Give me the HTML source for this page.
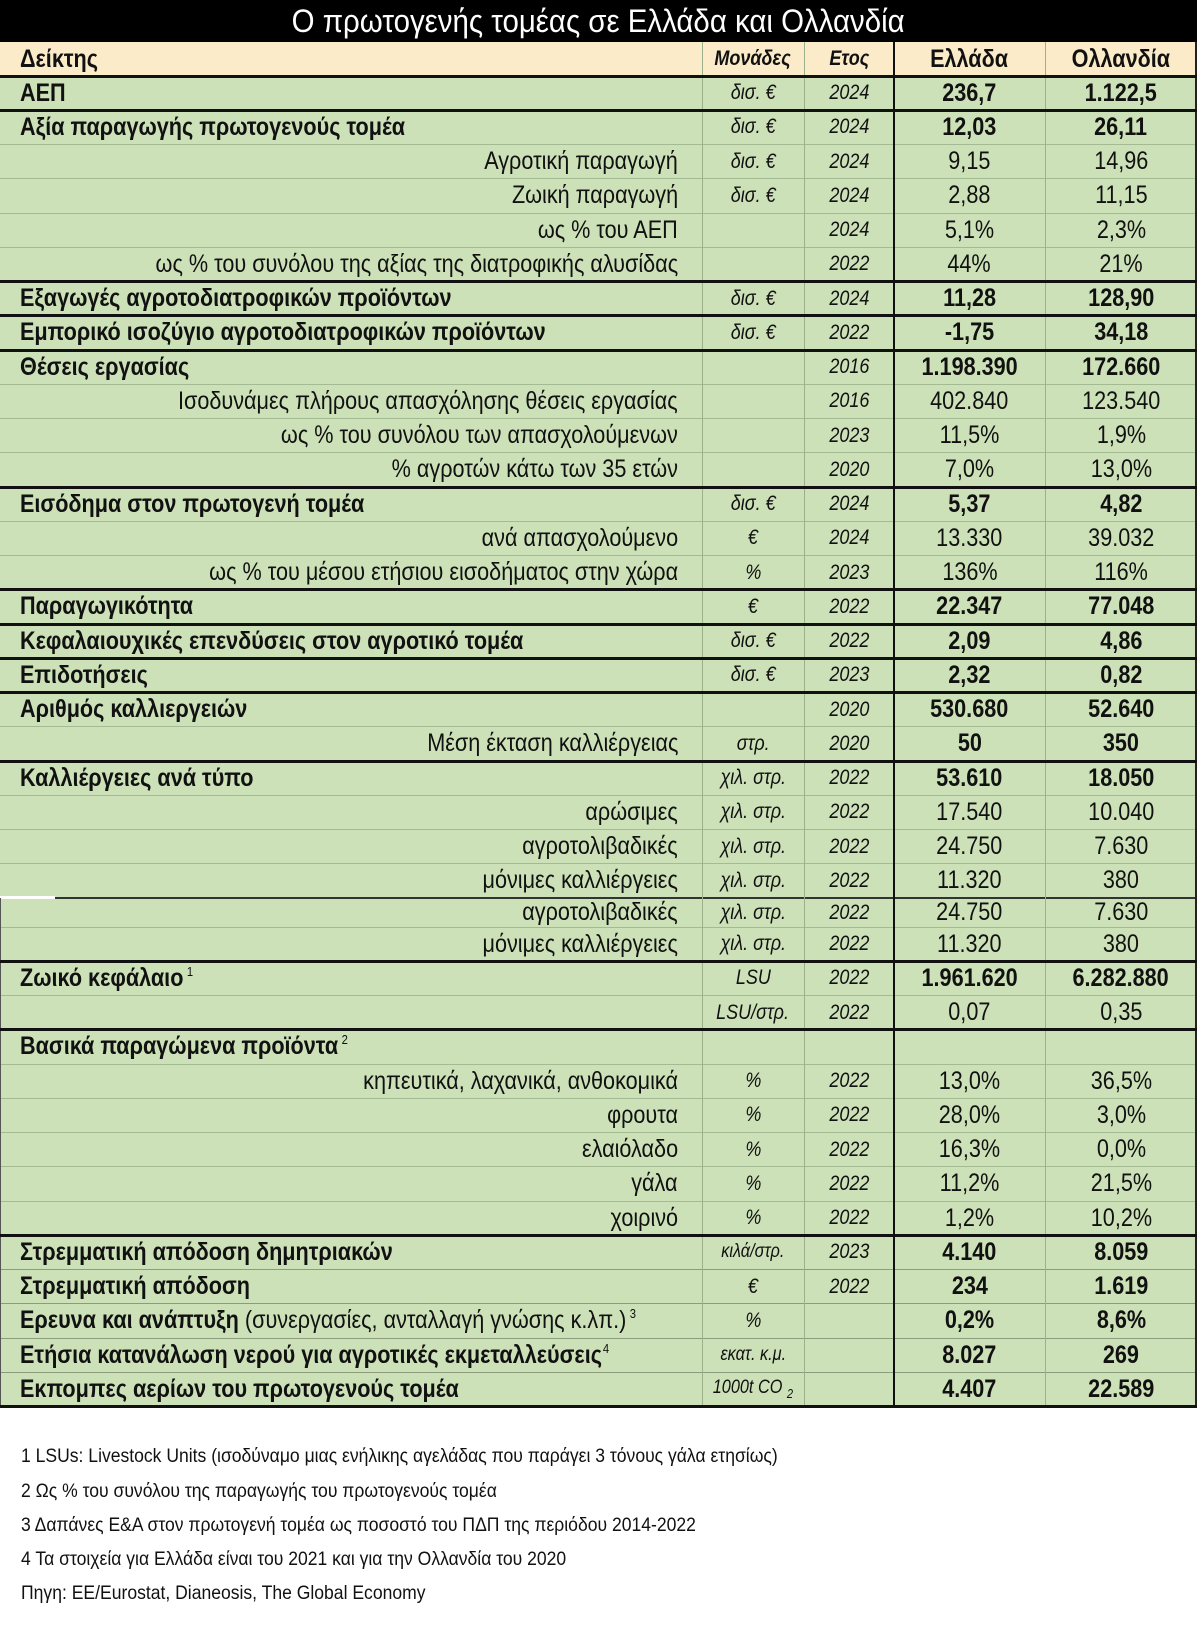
<!DOCTYPE html>
<html><head><meta charset="utf-8">
<style>
*{margin:0;padding:0;box-sizing:border-box}
html,body{width:1197px;height:1630px;background:#fff;overflow:hidden}
body{position:relative;font-family:"Liberation Sans","Noto Sans CJK SC",sans-serif;color:#111}
#title{position:absolute;left:0;top:0;width:1197px;height:42px;background:#000;color:#fff;display:flex;align-items:center;justify-content:center;font-size:32px}
#title span{display:inline-block;transform:scaleX(.92);transform-origin:center}
.r{position:absolute;left:0;width:1197px;background:#cde1b8}
.hdr{background:#fcebc8}
.c{position:absolute;top:0;bottom:0;display:flex;align-items:center;white-space:nowrap;font-size:25px}
.c>span{display:inline-block;transform:scaleX(.865)}
.l{left:20px}.l>span{transform-origin:left center}
.s{right:519px;justify-content:flex-end}.s>span{transform-origin:right center}
.u{left:702px;width:102px;justify-content:center;font-size:21px;font-style:italic}
.y{left:804px;width:90px;justify-content:center;font-size:21px;font-style:italic}
.u>span,.y>span{transform:scaleX(.857)}
.g{left:894px;width:151px;justify-content:center}
.n{left:1045px;width:152px;justify-content:center}
.u>span,.y>span,.g>span,.n>span{transform-origin:center}
.b{font-weight:bold}
sup{font-size:13px;font-weight:normal;vertical-align:10px;margin-left:4px}
sub{font-size:13px;vertical-align:-5px}
.hl{position:absolute;left:0;width:1197px}
.tk{height:3px;background:#111}
.tn{height:1px;background:#a4ba93}
.vl{position:absolute;top:42px;height:1365px}
.fn{position:absolute;left:21px;font-size:19.5px;white-space:nowrap}
.fn span{display:inline-block;transform:scaleX(.9);transform-origin:left center}
</style></head><body>
<div id="title"><span>Ο πρωτογενής τομέας σε Ελλάδα και Ολλανδία</span></div>

<div class="r hdr" style="top:42px;height:34px">
<div class="c l b"><span>Δείκτης</span></div>
<div class="c u b"><span>Μονάδες</span></div>
<div class="c y b"><span>Ετος</span></div>
<div class="c g b"><span>Ελλάδα</span></div>
<div class="c n b"><span>Ολλανδία</span></div>
</div>

<div class="r" style="top:76px;height:34.25px"><div class="c l b"><span>ΑΕΠ</span></div><div class="c u"><span>δισ. €</span></div><div class="c y"><span>2024</span></div><div class="c g b"><span>236,7</span></div><div class="c n b"><span>1.122,5</span></div></div>
<div class="r" style="top:110.25px;height:34.25px"><div class="c l b"><span>Αξία παραγωγής πρωτογενούς τομέα</span></div><div class="c u"><span>δισ. €</span></div><div class="c y"><span>2024</span></div><div class="c g b"><span>12,03</span></div><div class="c n b"><span>26,11</span></div></div>
<div class="r" style="top:144.5px;height:34.25px"><div class="c s"><span>Αγροτική παραγωγή</span></div><div class="c u"><span>δισ. €</span></div><div class="c y"><span>2024</span></div><div class="c g"><span>9,15</span></div><div class="c n"><span>14,96</span></div></div>
<div class="r" style="top:178.75px;height:34.25px"><div class="c s"><span>Ζωική παραγωγή</span></div><div class="c u"><span>δισ. €</span></div><div class="c y"><span>2024</span></div><div class="c g"><span>2,88</span></div><div class="c n"><span>11,15</span></div></div>
<div class="r" style="top:213px;height:34.25px"><div class="c s"><span>ως % του ΑΕΠ</span></div><div class="c y"><span>2024</span></div><div class="c g"><span>5,1%</span></div><div class="c n"><span>2,3%</span></div></div>
<div class="r" style="top:247.25px;height:34.25px"><div class="c s"><span>ως % του συνόλου της αξίας της διατροφικής αλυσίδας</span></div><div class="c y"><span>2022</span></div><div class="c g"><span>44%</span></div><div class="c n"><span>21%</span></div></div>
<div class="r" style="top:281.5px;height:34.25px"><div class="c l b"><span>Εξαγωγές αγροτοδιατροφικών προϊόντων</span></div><div class="c u"><span>δισ. €</span></div><div class="c y"><span>2024</span></div><div class="c g b"><span>11,28</span></div><div class="c n b"><span>128,90</span></div></div>
<div class="r" style="top:315.75px;height:34.25px"><div class="c l b"><span>Εμπορικό ισοζύγιο αγροτοδιατροφικών προϊόντων</span></div><div class="c u"><span>δισ. €</span></div><div class="c y"><span>2022</span></div><div class="c g b"><span>-1,75</span></div><div class="c n b"><span>34,18</span></div></div>
<div class="r" style="top:350px;height:34.25px"><div class="c l b"><span>Θέσεις εργασίας</span></div><div class="c y"><span>2016</span></div><div class="c g b"><span>1.198.390</span></div><div class="c n b"><span>172.660</span></div></div>
<div class="r" style="top:384.25px;height:34.25px"><div class="c s"><span>Ισοδυνάμες πλήρους απασχόλησης θέσεις εργασίας</span></div><div class="c y"><span>2016</span></div><div class="c g"><span>402.840</span></div><div class="c n"><span>123.540</span></div></div>
<div class="r" style="top:418.5px;height:34.25px"><div class="c s"><span>ως % του συνόλου των απασχολούμενων</span></div><div class="c y"><span>2023</span></div><div class="c g"><span>11,5%</span></div><div class="c n"><span>1,9%</span></div></div>
<div class="r" style="top:452.75px;height:34.25px"><div class="c s"><span>% αγροτών κάτω των 35 ετών</span></div><div class="c y"><span>2020</span></div><div class="c g"><span>7,0%</span></div><div class="c n"><span>13,0%</span></div></div>
<div class="r" style="top:487px;height:34.25px"><div class="c l b"><span>Εισόδημα στον πρωτογενή τομέα</span></div><div class="c u"><span>δισ. €</span></div><div class="c y"><span>2024</span></div><div class="c g b"><span>5,37</span></div><div class="c n b"><span>4,82</span></div></div>
<div class="r" style="top:521.25px;height:34.25px"><div class="c s"><span>ανά απασχολούμενο</span></div><div class="c u"><span>€</span></div><div class="c y"><span>2024</span></div><div class="c g"><span>13.330</span></div><div class="c n"><span>39.032</span></div></div>
<div class="r" style="top:555.5px;height:34.25px"><div class="c s"><span>ως % του μέσου ετήσιου εισοδήματος στην χώρα</span></div><div class="c u"><span>%</span></div><div class="c y"><span>2023</span></div><div class="c g"><span>136%</span></div><div class="c n"><span>116%</span></div></div>
<div class="r" style="top:589.75px;height:34.25px"><div class="c l b"><span>Παραγωγικότητα</span></div><div class="c u"><span>€</span></div><div class="c y"><span>2022</span></div><div class="c g b"><span>22.347</span></div><div class="c n b"><span>77.048</span></div></div>
<div class="r" style="top:624px;height:34.25px"><div class="c l b"><span>Κεφαλαιουχικές επενδύσεις στον αγροτικό τομέα</span></div><div class="c u"><span>δισ. €</span></div><div class="c y"><span>2022</span></div><div class="c g b"><span>2,09</span></div><div class="c n b"><span>4,86</span></div></div>
<div class="r" style="top:658.25px;height:34.25px"><div class="c l b"><span>Επιδοτήσεις</span></div><div class="c u"><span>δισ. €</span></div><div class="c y"><span>2023</span></div><div class="c g b"><span>2,32</span></div><div class="c n b"><span>0,82</span></div></div>
<div class="r" style="top:692.5px;height:34.25px"><div class="c l b"><span>Αριθμός καλλιεργειών</span></div><div class="c y"><span>2020</span></div><div class="c g b"><span>530.680</span></div><div class="c n b"><span>52.640</span></div></div>
<div class="r" style="top:726.75px;height:34.25px"><div class="c s"><span>Μέση έκταση καλλιέργειας</span></div><div class="c u"><span>στρ.</span></div><div class="c y"><span>2020</span></div><div class="c g b"><span>50</span></div><div class="c n b"><span>350</span></div></div>
<div class="r" style="top:761px;height:34.25px"><div class="c l b"><span>Καλλιέργειες ανά τύπο</span></div><div class="c u"><span>χιλ. στρ.</span></div><div class="c y"><span>2022</span></div><div class="c g b"><span>53.610</span></div><div class="c n b"><span>18.050</span></div></div>
<div class="r" style="top:795.25px;height:34.25px"><div class="c s"><span>αρώσιμες</span></div><div class="c u"><span>χιλ. στρ.</span></div><div class="c y"><span>2022</span></div><div class="c g"><span>17.540</span></div><div class="c n"><span>10.040</span></div></div>
<div class="r" style="top:829.5px;height:34.25px"><div class="c s"><span>αγροτολιβαδικές</span></div><div class="c u"><span>χιλ. στρ.</span></div><div class="c y"><span>2022</span></div><div class="c g"><span>24.750</span></div><div class="c n"><span>7.630</span></div></div>
<div class="r" style="top:863.75px;height:34.25px"><div class="c s"><span>μόνιμες καλλιέργειες</span></div><div class="c u"><span>χιλ. στρ.</span></div><div class="c y"><span>2022</span></div><div class="c g"><span>11.320</span></div><div class="c n"><span>380</span></div></div>
<div class="r" style="top:898px;height:29px"><div class="c s"><span>αγροτολιβαδικές</span></div><div class="c u"><span>χιλ. στρ.</span></div><div class="c y"><span>2022</span></div><div class="c g"><span>24.750</span></div><div class="c n"><span>7.630</span></div></div>
<div class="r" style="top:927px;height:34.25px"><div class="c s"><span>μόνιμες καλλιέργειες</span></div><div class="c u"><span>χιλ. στρ.</span></div><div class="c y"><span>2022</span></div><div class="c g"><span>11.320</span></div><div class="c n"><span>380</span></div></div>
<div class="r" style="top:961.25px;height:34.25px"><div class="c l b"><span>Ζωικό κεφάλαιο<sup>1</sup></span></div><div class="c u"><span>LSU</span></div><div class="c y"><span>2022</span></div><div class="c g b"><span>1.961.620</span></div><div class="c n b"><span>6.282.880</span></div></div>
<div class="r" style="top:995.5px;height:34.25px"><div class="c u"><span>LSU/στρ.</span></div><div class="c y"><span>2022</span></div><div class="c g"><span>0,07</span></div><div class="c n"><span>0,35</span></div></div>
<div class="r" style="top:1029.75px;height:34.25px"><div class="c l b"><span>Βασικά παραγώμενα προϊόντα<sup>2</sup></span></div></div>
<div class="r" style="top:1064px;height:34.25px"><div class="c s"><span>κηπευτικά, λαχανικά, ανθοκομικά</span></div><div class="c u"><span>%</span></div><div class="c y"><span>2022</span></div><div class="c g"><span>13,0%</span></div><div class="c n"><span>36,5%</span></div></div>
<div class="r" style="top:1098.25px;height:34.25px"><div class="c s"><span>φρουτα</span></div><div class="c u"><span>%</span></div><div class="c y"><span>2022</span></div><div class="c g"><span>28,0%</span></div><div class="c n"><span>3,0%</span></div></div>
<div class="r" style="top:1132.5px;height:34.25px"><div class="c s"><span>ελαιόλαδο</span></div><div class="c u"><span>%</span></div><div class="c y"><span>2022</span></div><div class="c g"><span>16,3%</span></div><div class="c n"><span>0,0%</span></div></div>
<div class="r" style="top:1166.75px;height:34.25px"><div class="c s"><span>γάλα</span></div><div class="c u"><span>%</span></div><div class="c y"><span>2022</span></div><div class="c g"><span>11,2%</span></div><div class="c n"><span>21,5%</span></div></div>
<div class="r" style="top:1201px;height:34.25px"><div class="c s"><span>χοιρινό</span></div><div class="c u"><span>%</span></div><div class="c y"><span>2022</span></div><div class="c g"><span>1,2%</span></div><div class="c n"><span>10,2%</span></div></div>
<div class="r" style="top:1235.25px;height:34.25px"><div class="c l b"><span>Στρεμματική απόδοση δημητριακών</span></div><div class="c u" style="font-size:19px"><span>κιλά/στρ.</span></div><div class="c y"><span>2023</span></div><div class="c g b"><span>4.140</span></div><div class="c n b"><span>8.059</span></div></div>
<div class="r" style="top:1269.5px;height:34.25px"><div class="c l b"><span>Στρεμματική απόδοση</span></div><div class="c u"><span>€</span></div><div class="c y"><span>2022</span></div><div class="c g b"><span>234</span></div><div class="c n b"><span>1.619</span></div></div>
<div class="r" style="top:1303.75px;height:34.25px"><div class="c l"><span><b>Ερευνα και ανάπτυξη</b> (συνεργασίες, ανταλλαγή γνώσης κ.λπ.)<sup>3</sup></span></div><div class="c u"><span>%</span></div><div class="c g b"><span>0,2%</span></div><div class="c n b"><span>8,6%</span></div></div>
<div class="r" style="top:1338px;height:34.25px"><div class="c l b"><span>Ετήσια κατανάλωση νερού για αγροτικές εκμεταλλεύσεις<sup style="margin-left:1px">4</sup></span></div><div class="c u" style="font-size:19px"><span>εκατ. κ.μ.</span></div><div class="c g b"><span>8.027</span></div><div class="c n b"><span>269</span></div></div>
<div class="r" style="top:1372.25px;height:34.25px"><div class="c l b"><span>Εκπομπες αερίων του πρωτογενούς τομέα</span></div><div class="c u" style="font-size:19px"><span>1000t CO <sub>2</sub></span></div><div class="c g b"><span>4.407</span></div><div class="c n b"><span>22.589</span></div></div>

<!-- thin horizontal lines -->
<div class="hl tn" style="top:144px"></div>
<div class="hl tn" style="top:178.25px"></div>
<div class="hl tn" style="top:212.5px"></div>
<div class="hl tn" style="top:246.75px"></div>
<div class="hl tn" style="top:383.75px"></div>
<div class="hl tn" style="top:418px"></div>
<div class="hl tn" style="top:452.25px"></div>
<div class="hl tn" style="top:520.75px"></div>
<div class="hl tn" style="top:555px"></div>
<div class="hl tn" style="top:726.25px"></div>
<div class="hl tn" style="top:794.75px"></div>
<div class="hl tn" style="top:829px"></div>
<div class="hl tn" style="top:863.25px"></div>
<div class="hl tn" style="top:926.5px"></div>
<div class="hl tn" style="top:995px"></div>
<div class="hl tn" style="top:1063.5px"></div>
<div class="hl tn" style="top:1097.75px"></div>
<div class="hl tn" style="top:1132px"></div>
<div class="hl tn" style="top:1166.25px"></div>
<div class="hl tn" style="top:1200.5px"></div>
<div class="hl tn" style="top:1269px;background:#8a9c7c"></div>
<div class="hl tn" style="top:1303.25px;background:#8a9c7c"></div>
<div class="hl tn" style="top:1337.5px;background:#8a9c7c"></div>
<div class="hl tn" style="top:1371.75px;background:#8a9c7c"></div>

<!-- splice line -->
<div style="position:absolute;left:0;top:896px;width:55px;height:3px;background:#fff"></div>
<div style="position:absolute;left:55px;top:897px;width:1142px;height:1.5px;background:#333"></div>
<div style="position:absolute;left:0;top:898px;width:1px;height:508px;background:#555"></div>

<!-- vertical lines -->
<div class="vl" style="left:702px;width:1px;background:#9db08c"></div>
<div class="vl" style="left:804px;width:1px;background:#9db08c"></div>
<div class="vl" style="left:1045px;width:1px;background:#9db08c"></div>
<div class="vl" style="left:892.5px;width:2.5px;background:#111"></div>
<div class="vl" style="left:1195px;width:2px;background:#222"></div>

<!-- thick horizontal lines -->
<div class="hl tk" style="top:74.5px"></div>
<div class="hl tk" style="top:108.75px"></div>
<div class="hl tk" style="top:280px"></div>
<div class="hl tk" style="top:314.25px"></div>
<div class="hl tk" style="top:348.5px"></div>
<div class="hl tk" style="top:485.5px"></div>
<div class="hl tk" style="top:588.25px"></div>
<div class="hl tk" style="top:622.5px"></div>
<div class="hl tk" style="top:656.75px"></div>
<div class="hl tk" style="top:691px"></div>
<div class="hl tk" style="top:759.5px"></div>
<div class="hl tk" style="top:959.75px"></div>
<div class="hl tk" style="top:1028.25px"></div>
<div class="hl tk" style="top:1233.75px"></div>
<div class="hl tk" style="top:1405px"></div>

<div class="fn" style="top:1445px"><span>1 LSUs: Livestock Units (ισοδύναμο μιας ενήλικης αγελάδας που παράγει 3 τόνους γάλα ετησίως)</span></div>
<div class="fn" style="top:1480px"><span>2 Ως % του συνόλου της παραγωγής του πρωτογενούς τομέα</span></div>
<div class="fn" style="top:1514px"><span>3 Δαπάνες Ε&amp;Α στον πρωτογενή τομέα ως ποσοστό του ΠΔΠ της περιόδου 2014-2022</span></div>
<div class="fn" style="top:1548px"><span>4 Τα στοιχεία για Ελλάδα είναι του 2021 και για την Ολλανδία του 2020</span></div>
<div class="fn" style="top:1582px"><span>Πηγη: ΕΕ/Eurostat, Dianeosis, The Global Economy</span></div>
</body></html>
